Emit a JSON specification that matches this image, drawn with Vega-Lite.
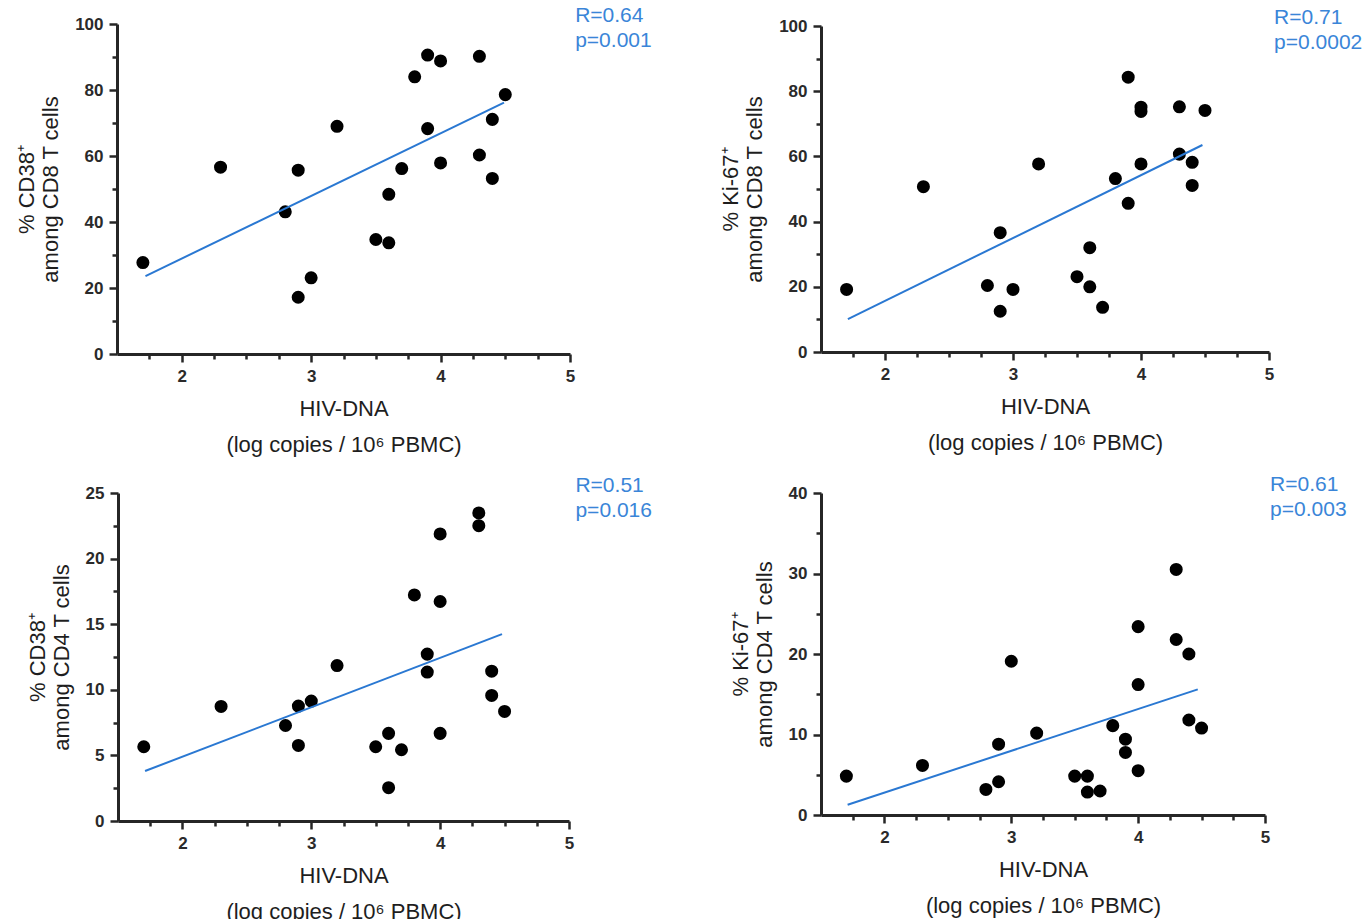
{
  "$schema": "https://vega.github.io/schema/vega-lite/v6.json",
  "background": "white",
  "padding": {"left": 15, "top": 5, "right": 5, "bottom": 5},
  "columns": 2,
  "spacing": {"row": 139, "column": 251},
  "bounds": "flush",
  "center": true,
  "config": {
    "view": {"stroke": null},
    "axis": {
      "grid": false,
      "labelOverlap": false,
      "labelFlush": false,
      "tickCount": 60,
      "domainColor": "#262626",
      "domainWidth": 3,
      "tickColor": "#262626",
      "tickWidth": 2.5,
      "labelFont": "Liberation Sans",
      "labelFontSize": 17,
      "labelFontWeight": "bold",
      "labelColor": "#2a2a2a",
      "titleFont": "Liberation Sans",
      "titleFontSize": 22,
      "titleFontWeight": "normal",
      "titleColor": "#1e1e1e"
    }
  },
  "datasets": {
    "points": [
      {"panel": "A", "hivdna": 1.7, "pct": 27.7},
      {"panel": "A", "hivdna": 2.3, "pct": 56.6},
      {"panel": "A", "hivdna": 2.8, "pct": 43.1},
      {"panel": "A", "hivdna": 2.9, "pct": 55.7},
      {"panel": "A", "hivdna": 2.9, "pct": 17.2},
      {"panel": "A", "hivdna": 3.0, "pct": 23.1},
      {"panel": "A", "hivdna": 3.2, "pct": 69.0},
      {"panel": "A", "hivdna": 3.5, "pct": 34.7},
      {"panel": "A", "hivdna": 3.6, "pct": 33.7},
      {"panel": "A", "hivdna": 3.6, "pct": 48.4},
      {"panel": "A", "hivdna": 3.7, "pct": 56.2},
      {"panel": "A", "hivdna": 3.8, "pct": 84.0},
      {"panel": "A", "hivdna": 3.9, "pct": 90.6},
      {"panel": "A", "hivdna": 3.9, "pct": 68.3},
      {"panel": "A", "hivdna": 4.0, "pct": 88.8},
      {"panel": "A", "hivdna": 4.0, "pct": 57.9},
      {"panel": "A", "hivdna": 4.3, "pct": 90.2},
      {"panel": "A", "hivdna": 4.3, "pct": 60.3},
      {"panel": "A", "hivdna": 4.4, "pct": 71.1},
      {"panel": "A", "hivdna": 4.4, "pct": 53.2},
      {"panel": "A", "hivdna": 4.5, "pct": 78.6},

      {"panel": "B", "hivdna": 1.7, "pct": 19.2},
      {"panel": "B", "hivdna": 2.3, "pct": 50.7},
      {"panel": "B", "hivdna": 2.8, "pct": 20.4},
      {"panel": "B", "hivdna": 2.9, "pct": 36.6},
      {"panel": "B", "hivdna": 2.9, "pct": 12.5},
      {"panel": "B", "hivdna": 3.0, "pct": 19.2},
      {"panel": "B", "hivdna": 3.2, "pct": 57.7},
      {"panel": "B", "hivdna": 3.5, "pct": 23.1},
      {"panel": "B", "hivdna": 3.6, "pct": 32.0},
      {"panel": "B", "hivdna": 3.6, "pct": 20.0},
      {"panel": "B", "hivdna": 3.7, "pct": 13.7},
      {"panel": "B", "hivdna": 3.8, "pct": 53.2},
      {"panel": "B", "hivdna": 3.9, "pct": 84.3},
      {"panel": "B", "hivdna": 3.9, "pct": 45.6},
      {"panel": "B", "hivdna": 4.0, "pct": 75.1},
      {"panel": "B", "hivdna": 4.0, "pct": 73.8},
      {"panel": "B", "hivdna": 4.0, "pct": 57.7},
      {"panel": "B", "hivdna": 4.3, "pct": 75.2},
      {"panel": "B", "hivdna": 4.3, "pct": 60.7},
      {"panel": "B", "hivdna": 4.4, "pct": 58.2},
      {"panel": "B", "hivdna": 4.4, "pct": 51.1},
      {"panel": "B", "hivdna": 4.5, "pct": 74.1},

      {"panel": "C", "hivdna": 1.7, "pct": 5.66},
      {"panel": "C", "hivdna": 2.3, "pct": 8.73},
      {"panel": "C", "hivdna": 2.8, "pct": 7.28},
      {"panel": "C", "hivdna": 2.9, "pct": 8.76},
      {"panel": "C", "hivdna": 2.9, "pct": 5.76},
      {"panel": "C", "hivdna": 3.0, "pct": 9.14},
      {"panel": "C", "hivdna": 3.2, "pct": 11.85},
      {"panel": "C", "hivdna": 3.5, "pct": 5.66},
      {"panel": "C", "hivdna": 3.6, "pct": 6.68},
      {"panel": "C", "hivdna": 3.6, "pct": 2.54},
      {"panel": "C", "hivdna": 3.7, "pct": 5.43},
      {"panel": "C", "hivdna": 3.8, "pct": 17.23},
      {"panel": "C", "hivdna": 3.9, "pct": 12.72},
      {"panel": "C", "hivdna": 3.9, "pct": 11.35},
      {"panel": "C", "hivdna": 4.0, "pct": 21.88},
      {"panel": "C", "hivdna": 4.0, "pct": 16.73},
      {"panel": "C", "hivdna": 4.0, "pct": 6.68},
      {"panel": "C", "hivdna": 4.3, "pct": 23.48},
      {"panel": "C", "hivdna": 4.3, "pct": 22.51},
      {"panel": "C", "hivdna": 4.4, "pct": 11.42},
      {"panel": "C", "hivdna": 4.4, "pct": 9.57},
      {"panel": "C", "hivdna": 4.5, "pct": 8.35},

      {"panel": "D", "hivdna": 1.7, "pct": 4.83},
      {"panel": "D", "hivdna": 2.3, "pct": 6.16},
      {"panel": "D", "hivdna": 2.8, "pct": 3.18},
      {"panel": "D", "hivdna": 2.9, "pct": 8.8},
      {"panel": "D", "hivdna": 2.9, "pct": 4.13},
      {"panel": "D", "hivdna": 3.0, "pct": 19.1},
      {"panel": "D", "hivdna": 3.2, "pct": 10.17},
      {"panel": "D", "hivdna": 3.5, "pct": 4.83},
      {"panel": "D", "hivdna": 3.6, "pct": 4.83},
      {"panel": "D", "hivdna": 3.6, "pct": 2.85},
      {"panel": "D", "hivdna": 3.7, "pct": 2.98},
      {"panel": "D", "hivdna": 3.8, "pct": 11.1},
      {"panel": "D", "hivdna": 3.9, "pct": 9.42},
      {"panel": "D", "hivdna": 3.9, "pct": 7.77},
      {"panel": "D", "hivdna": 4.0, "pct": 23.4},
      {"panel": "D", "hivdna": 4.0, "pct": 16.2},
      {"panel": "D", "hivdna": 4.0, "pct": 5.5},
      {"panel": "D", "hivdna": 4.3, "pct": 30.5},
      {"panel": "D", "hivdna": 4.3, "pct": 21.8},
      {"panel": "D", "hivdna": 4.4, "pct": 20.0},
      {"panel": "D", "hivdna": 4.4, "pct": 11.8},
      {"panel": "D", "hivdna": 4.5, "pct": 10.8}
    ],
    "fits": [
      {"panel": "A", "hivdna": 1.72, "pct": 23.6},
      {"panel": "A", "hivdna": 4.49, "pct": 76.2},
      {"panel": "B", "hivdna": 1.71, "pct": 10.1},
      {"panel": "B", "hivdna": 4.48, "pct": 63.5},
      {"panel": "C", "hivdna": 1.71, "pct": 3.81},
      {"panel": "C", "hivdna": 4.48, "pct": 14.24},
      {"panel": "D", "hivdna": 1.71, "pct": 1.28},
      {"panel": "D", "hivdna": 4.47, "pct": 15.6}
    ]
  },
  "concat": [
    {
      "width": 453, "height": 330,
      "layer": [
        {
          "data": {"name": "points"},
          "transform": [{"filter": "datum.panel === 'A'"}],
          "mark": {"type": "circle", "size": 170, "color": "#000000", "opacity": 1},
          "encoding": {
            "x": {"field": "hivdna", "type": "quantitative", "scale": {"domain": [1.5, 5], "nice": false, "zero": false},
              "axis": {"values": [1.75, 2, 2.25, 2.5, 2.75, 3, 3.25, 3.5, 3.75, 4, 4.25, 4.5, 4.75, 5], "tickCount": 60, "labelOverlap": false, "labelFlush": false, "labelExpr": "abs(datum.value - round(datum.value)) < 0.01 ? format(datum.value, 'd') : ''", "tickSize": {"condition": {"test": "abs(datum.value - round(datum.value)) < 0.01", "value": 8}, "value": 5}, "labelPadding": 6, "title": ["HIV-DNA", "(log copies / 10⁶ PBMC)"], "titleLineHeight": 36, "titlePadding": 14}},
            "y": {"field": "pct", "type": "quantitative", "scale": {"domain": [0, 100], "nice": false},
              "axis": {"values": [0, 10, 20, 30, 40, 50, 60, 70, 80, 90, 100], "tickCount": 60, "labelOverlap": false, "labelFlush": false, "labelExpr": "datum.value % 20 === 0 ? format(datum.value, 'd') : ''", "tickSize": {"condition": {"test": "datum.value % 20 === 0", "value": 8}, "value": 5}, "labelPadding": 6, "title": ["% CD38⁺", "among CD8 T cells"], "titleLineHeight": 24, "titlePadding": 12}}
          }
        },
        {
          "data": {"name": "fits"},
          "transform": [{"filter": "datum.panel === 'A'"}],
          "mark": {"type": "line", "color": "#2a78d2", "strokeWidth": 2},
          "encoding": {"x": {"field": "hivdna", "type": "quantitative"}, "y": {"field": "pct", "type": "quantitative"}}
        },
        {
          "data": {"values": [{}]},
          "mark": {"type": "text", "text": ["R=0.64", "p=0.001"], "align": "left", "baseline": "alphabetic", "font": "Liberation Sans", "fontSize": 21, "lineHeight": 25, "color": "#3a85d8"},
          "encoding": {"x": {"datum": 5.04}, "y": {"datum": 100.6}}
        }
      ]
    },
    {
      "width": 448, "height": 326,
      "layer": [
        {
          "data": {"name": "points"},
          "transform": [{"filter": "datum.panel === 'B'"}],
          "mark": {"type": "circle", "size": 170, "color": "#000000", "opacity": 1},
          "encoding": {
            "x": {"field": "hivdna", "type": "quantitative", "scale": {"domain": [1.5, 5], "nice": false, "zero": false},
              "axis": {"values": [1.75, 2, 2.25, 2.5, 2.75, 3, 3.25, 3.5, 3.75, 4, 4.25, 4.5, 4.75, 5], "tickCount": 60, "labelOverlap": false, "labelFlush": false, "labelExpr": "abs(datum.value - round(datum.value)) < 0.01 ? format(datum.value, 'd') : ''", "tickSize": {"condition": {"test": "abs(datum.value - round(datum.value)) < 0.01", "value": 8}, "value": 5}, "labelPadding": 6, "title": ["HIV-DNA", "(log copies / 10⁶ PBMC)"], "titleLineHeight": 36, "titlePadding": 14}},
            "y": {"field": "pct", "type": "quantitative", "scale": {"domain": [0, 100], "nice": false},
              "axis": {"values": [0, 10, 20, 30, 40, 50, 60, 70, 80, 90, 100], "tickCount": 60, "labelOverlap": false, "labelFlush": false, "labelExpr": "datum.value % 20 === 0 ? format(datum.value, 'd') : ''", "tickSize": {"condition": {"test": "datum.value % 20 === 0", "value": 8}, "value": 5}, "labelPadding": 6, "title": ["% Ki-67⁺", "among CD8 T cells"], "titleLineHeight": 24, "titlePadding": 12}}
          }
        },
        {
          "data": {"name": "fits"},
          "transform": [{"filter": "datum.panel === 'B'"}],
          "mark": {"type": "line", "color": "#2a78d2", "strokeWidth": 2},
          "encoding": {"x": {"field": "hivdna", "type": "quantitative"}, "y": {"field": "pct", "type": "quantitative"}}
        },
        {
          "data": {"values": [{}]},
          "mark": {"type": "text", "text": ["R=0.71", "p=0.0002"], "align": "left", "baseline": "alphabetic", "font": "Liberation Sans", "fontSize": 21, "lineHeight": 25, "color": "#3a85d8"},
          "encoding": {"x": {"datum": 5.04}, "y": {"datum": 100.6}}
        }
      ]
    },
    {
      "width": 451, "height": 328,
      "layer": [
        {
          "data": {"name": "points"},
          "transform": [{"filter": "datum.panel === 'C'"}],
          "mark": {"type": "circle", "size": 170, "color": "#000000", "opacity": 1},
          "encoding": {
            "x": {"field": "hivdna", "type": "quantitative", "scale": {"domain": [1.5, 5], "nice": false, "zero": false},
              "axis": {"values": [1.75, 2, 2.25, 2.5, 2.75, 3, 3.25, 3.5, 3.75, 4, 4.25, 4.5, 4.75, 5], "tickCount": 60, "labelOverlap": false, "labelFlush": false, "labelExpr": "abs(datum.value - round(datum.value)) < 0.01 ? format(datum.value, 'd') : ''", "tickSize": {"condition": {"test": "abs(datum.value - round(datum.value)) < 0.01", "value": 8}, "value": 5}, "labelPadding": 6, "title": ["HIV-DNA", "(log copies / 10⁶ PBMC)"], "titleLineHeight": 36, "titlePadding": 14}},
            "y": {"field": "pct", "type": "quantitative", "scale": {"domain": [0, 25], "nice": false},
              "axis": {"values": [0, 2.5, 5, 7.5, 10, 12.5, 15, 17.5, 20, 22.5, 25], "tickCount": 60, "labelOverlap": false, "labelFlush": false, "labelExpr": "datum.value % 5 === 0 ? format(datum.value, 'd') : ''", "tickSize": {"condition": {"test": "datum.value % 5 === 0", "value": 8}, "value": 5}, "labelPadding": 6, "title": ["% CD38⁺", "among CD4 T cells"], "titleLineHeight": 24, "titlePadding": 12}}
          }
        },
        {
          "data": {"name": "fits"},
          "transform": [{"filter": "datum.panel === 'C'"}],
          "mark": {"type": "line", "color": "#2a78d2", "strokeWidth": 2},
          "encoding": {"x": {"field": "hivdna", "type": "quantitative"}, "y": {"field": "pct", "type": "quantitative"}}
        },
        {
          "data": {"values": [{}]},
          "mark": {"type": "text", "text": ["R=0.51", "p=0.016"], "align": "left", "baseline": "alphabetic", "font": "Liberation Sans", "fontSize": 21, "lineHeight": 25, "color": "#3a85d8"},
          "encoding": {"x": {"datum": 5.05}, "y": {"datum": 25.1}}
        }
      ]
    },
    {
      "width": 444, "height": 322,
      "layer": [
        {
          "data": {"name": "points"},
          "transform": [{"filter": "datum.panel === 'D'"}],
          "mark": {"type": "circle", "size": 170, "color": "#000000", "opacity": 1},
          "encoding": {
            "x": {"field": "hivdna", "type": "quantitative", "scale": {"domain": [1.5, 5], "nice": false, "zero": false},
              "axis": {"values": [1.75, 2, 2.25, 2.5, 2.75, 3, 3.25, 3.5, 3.75, 4, 4.25, 4.5, 4.75, 5], "tickCount": 60, "labelOverlap": false, "labelFlush": false, "labelExpr": "abs(datum.value - round(datum.value)) < 0.01 ? format(datum.value, 'd') : ''", "tickSize": {"condition": {"test": "abs(datum.value - round(datum.value)) < 0.01", "value": 8}, "value": 5}, "labelPadding": 6, "title": ["HIV-DNA", "(log copies / 10⁶ PBMC)"], "titleLineHeight": 36, "titlePadding": 14}},
            "y": {"field": "pct", "type": "quantitative", "scale": {"domain": [0, 40], "nice": false},
              "axis": {"values": [0, 5, 10, 15, 20, 25, 30, 35, 40], "tickCount": 60, "labelOverlap": false, "labelFlush": false, "labelExpr": "datum.value % 10 === 0 ? format(datum.value, 'd') : ''", "tickSize": {"condition": {"test": "datum.value % 10 === 0", "value": 8}, "value": 5}, "labelPadding": 6, "title": ["% Ki-67⁺", "among CD4 T cells"], "titleLineHeight": 24, "titlePadding": 12}}
          }
        },
        {
          "data": {"name": "fits"},
          "transform": [{"filter": "datum.panel === 'D'"}],
          "mark": {"type": "line", "color": "#2a78d2", "strokeWidth": 2},
          "encoding": {"x": {"field": "hivdna", "type": "quantitative"}, "y": {"field": "pct", "type": "quantitative"}}
        },
        {
          "data": {"values": [{}]},
          "mark": {"type": "text", "text": ["R=0.61", "p=0.003"], "align": "left", "baseline": "alphabetic", "font": "Liberation Sans", "fontSize": 21, "lineHeight": 25, "color": "#3a85d8"},
          "encoding": {"x": {"datum": 5.04}, "y": {"datum": 40.2}}
        }
      ]
    }
  ]
}
